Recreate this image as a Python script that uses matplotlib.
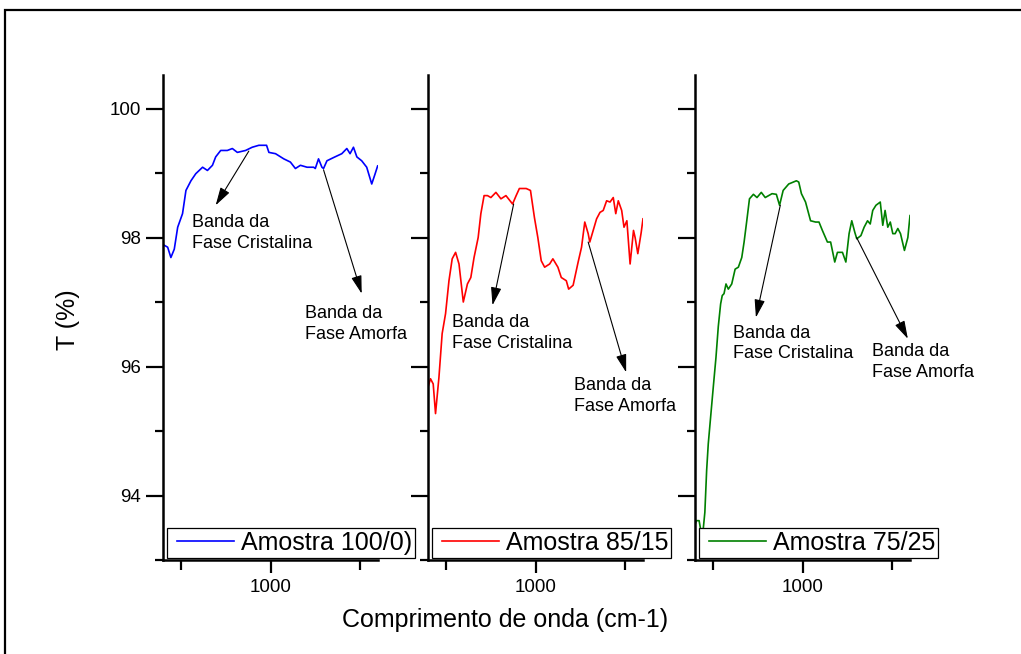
import matplotlib
matplotlib.use("Agg")
import matplotlib.pyplot as plt
from matplotlib.patches import Rectangle
from matplotlib.ticker import MultipleLocator
from matplotlib.legend_handler import HandlerLine2D

plt.rcParams['font.family'] = ['Liberation Sans', 'DejaVu Sans']

# FTIR transmittance traces, one per sample
wn_100 = [407, 426, 444, 463, 482, 509, 528, 556, 583, 621, 648, 676, 694, 722, 759, 787,
          815, 861, 898, 935, 978, 991, 1028, 1074, 1111, 1139, 1167, 1204, 1241, 1250,
          1268, 1287, 1296, 1315, 1352, 1398, 1426, 1444, 1463, 1482, 1509, 1537, 1565,
          1583, 1598]
t_100 = [97.88, 97.85, 97.69, 97.82, 98.16, 98.37, 98.73, 98.88, 98.99, 99.09, 99.04, 99.12,
         99.25, 99.35, 99.35, 99.38, 99.32, 99.35, 99.40, 99.43, 99.43, 99.32, 99.30, 99.22,
         99.17, 99.07, 99.12, 99.09, 99.09, 99.07, 99.22, 99.09, 99.07, 99.19, 99.24, 99.30,
         99.38, 99.30, 99.40, 99.25, 99.19, 99.09, 98.83, 98.98, 99.11]

wn_85 = [400, 414, 429, 442, 461, 479, 498, 517, 535, 554, 573, 597, 620, 639, 657, 680,
         695, 713, 732, 751, 779, 807, 835, 872, 892, 910, 948, 972, 994, 1013, 1032, 1051,
         1079, 1097, 1125, 1144, 1172, 1185, 1210, 1238, 1257, 1275, 1294, 1303, 1322, 1341,
         1360, 1378, 1397, 1416, 1434, 1448, 1462, 1481, 1494, 1510, 1528, 1547, 1556, 1571,
         1590, 1600]
t_85 = [95.68, 95.81, 95.73, 95.27, 95.83, 96.51, 96.82, 97.33, 97.67, 97.77, 97.59, 97.00,
        97.28, 97.38, 97.69, 98.00, 98.37, 98.65, 98.65, 98.62, 98.70, 98.60, 98.65, 98.52,
        98.65, 98.76, 98.76, 98.73, 98.31, 98.00, 97.64, 97.54, 97.59, 97.67, 97.54, 97.38,
        97.33, 97.20, 97.26, 97.62, 97.85, 98.24, 98.06, 97.93, 98.11, 98.29, 98.39, 98.42,
        98.57, 98.55, 98.62, 98.37, 98.57, 98.42, 98.16, 98.26, 97.59, 98.11, 98.00, 97.75,
        98.08, 98.29]

wn_75 = [400, 408, 423, 431, 446, 455, 465, 474, 487, 502, 517, 530, 543, 552, 562, 573,
         586, 605, 624, 642, 661, 674, 689, 704, 726, 746, 770, 792, 830, 854, 872, 892,
         923, 966, 979, 994, 1017, 1045, 1073, 1092, 1111, 1139, 1157, 1180, 1195, 1223,
         1242, 1260, 1275, 1292, 1303, 1326, 1344, 1363, 1378, 1392, 1410, 1434, 1448, 1461,
         1476, 1490, 1504, 1517, 1532, 1547, 1569, 1588, 1600]
t_75 = [93.55, 93.61, 93.61, 93.48, 93.48, 93.74, 94.39, 94.80, 95.21, 95.68, 96.14, 96.62,
        96.97, 97.10, 97.13, 97.28, 97.20, 97.28, 97.51, 97.54, 97.69, 97.93, 98.26, 98.60,
        98.67, 98.62, 98.70, 98.62, 98.68, 98.67, 98.50, 98.73, 98.83, 98.88, 98.86, 98.68,
        98.55, 98.26, 98.24, 98.24, 98.11, 97.93, 97.93, 97.62, 97.77, 97.77, 97.62, 98.06,
        98.26, 98.08, 97.98, 98.03, 98.16, 98.26, 98.21, 98.42, 98.50, 98.55, 98.19, 98.42,
        98.16, 98.24, 98.06, 98.06, 98.14, 98.06, 97.80, 98.00, 98.34]

labels = ['Amostra 100/0)', 'Amostra 85/15', 'Amostra 75/25']
colors = ['#0000ff', '#ff0000', '#008000']

# (tail on curve, arrow head, text anchor) for crystalline and amorphous bands
cris_arrows = [((879, 99.34), (694, 98.50), (561, 98.36)),
               ((878, 98.52), (760, 96.95), (534, 96.81)),
               ((876, 98.50), (740, 96.76), (611, 96.65))]
amor_arrows = [((1296, 99.05), (1509, 97.13), (1194, 96.96)),
               ((1294, 97.93), (1506, 95.91), (1215, 95.83)),
               ((1302, 98.00), (1588, 96.43), (1388, 96.37))]


class InsetLine(HandlerLine2D):
    # legend line that starts a little inside its handle box
    def get_xdata(self, legend, xdescent, ydescent, width, height, fontsize):
        x0 = -xdescent + 0.11 * width
        return [x0, -xdescent + width], [x0, -xdescent + width]


W, H = 1021, 654
fig = plt.figure(figsize=(W / 100, H / 100), dpi=100)

lefts = [163, 428, 695]
ax_w = 215
ax_bottom, ax_top = 560, 75

series = [(wn_100, t_100), (wn_85, t_85), (wn_75, t_75)]
for i, (x, y) in enumerate(series):
    ax = fig.add_axes([lefts[i] / W, (H - ax_bottom) / H, ax_w / W, (ax_bottom - ax_top) / H])
    line, = ax.plot(x, y, color=colors[i], lw=1.2, label=labels[i])
    ax.set_xlim(400, 1600)
    ax.set_ylim(93.0, 100.52)
    for s in ['top', 'right']:
        ax.spines[s].set_visible(False)
    for s in ['left', 'bottom']:
        ax.spines[s].set_linewidth(1.8)
    ax.xaxis.set_major_locator(MultipleLocator(1000))
    ax.xaxis.set_minor_locator(MultipleLocator(500))
    ax.yaxis.set_major_locator(MultipleLocator(2))
    ax.yaxis.set_minor_locator(MultipleLocator(1))
    ax.tick_params(axis='y', which='major', length=12, width=1.6, labelsize=13.5, pad=4)
    ax.tick_params(axis='y', which='minor', length=6, width=1.6)
    ax.tick_params(axis='x', which='major', length=9, width=1.6, labelsize=13.5, pad=5)
    ax.tick_params(axis='x', which='minor', length=7, width=1.6)
    if i > 0:
        ax.tick_params(axis='y', labelleft=False)

    for tail, head, txt in (cris_arrows[i], amor_arrows[i]):
        ax.annotate('', xy=head, xytext=tail, annotation_clip=False,
                    arrowprops=dict(arrowstyle='-|>,head_length=0.55,head_width=0.16',
                                    mutation_scale=20, color='black', lw=0.8,
                                    shrinkA=0, shrinkB=0))
    ax.text(*cris_arrows[i][2], 'Banda da\nFase Cristalina', fontsize=13,
            va='top', ha='left', clip_on=False, linespacing=1.3)
    ax.text(*amor_arrows[i][2], 'Banda da\nFase Amorfa', fontsize=13,
            va='top', ha='left', clip_on=False, linespacing=1.3)

    leg = ax.legend(handles=[line], loc='lower left', bbox_to_anchor=(0.018, 0.004),
                    borderaxespad=0, fontsize=18, handlelength=2.55, handletextpad=0.28,
                    borderpad=0.12, fancybox=False, framealpha=1, edgecolor='black',
                    handler_map={line: InsetLine()})
    leg.get_frame().set_linewidth(0.9)
    leg.set_zorder(5)

fig.text(68 / W, (H - 320) / H, 'T (%)', rotation=90, fontsize=18, ha='center', va='center')
fig.text(505 / W, (H - 620) / H, 'Comprimento de onda (cm-1)', fontsize=18,
         ha='center', va='center')

# outer frame, open at the right and bottom edges
fig.patches.append(Rectangle((5 / W, -0.1), 1.2, (H - 10) / H + 0.1, transform=fig.transFigure,
                             fill=False, edgecolor='black', lw=1.6))

fig.savefig('out.png', dpi=100)
